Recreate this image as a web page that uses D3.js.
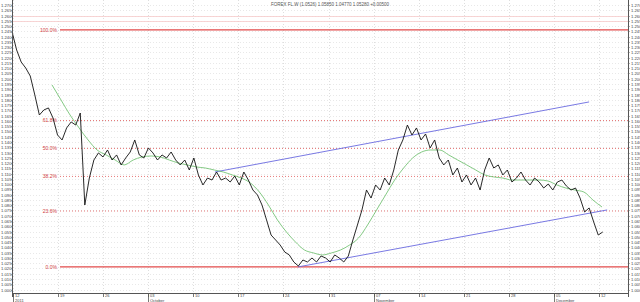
<!DOCTYPE html>
<html><head><meta charset="utf-8">
<script src="https://cdn.jsdelivr.net/npm/d3@7"></script>
<style>
html,body{margin:0;padding:0;background:#fff;}
svg{display:block;font-family:"Liberation Sans",Arial,sans-serif;}
</style></head>
<body>
<svg id="c" width="640" height="302"></svg>
<script>
// ---- data ----
const title = "FOREX FL.W (1.0526) 1.05850 1.04770 1.05280 +0.00500";
const tickDays = [0,5,10,15,20,25,30,35,40,45,50,55,60,65];
const tickLabels = ["12","19","26","03","10","17","24","31","07","14","21","28","05","12"];
const monthDays = [0,15,40,60];
const monthLabels = ["2011","October","November","December"];

const priceStartDay = -0.1, priceStepDay = 0.504;
const priceValues = [1.2444,1.2273,1.2159,1.2102,1.2026,1.1846,1.1656,1.1704,1.1723,1.1628,
1.1466,1.1419,1.1533,1.1590,1.1561,1.1675,1.0802,1.1058,1.1229,1.1296,
1.1258,1.1324,1.1229,1.1277,1.1182,1.1248,1.1305,1.1419,1.1277,1.1248,
1.1343,1.1296,1.1229,1.1277,1.1248,1.1305,1.1229,1.1182,1.1229,1.1134,
1.1248,1.1087,1.0992,1.1058,1.1039,1.1115,1.1039,1.1058,1.1020,1.1077,
1.0992,1.1115,1.1039,1.0944,1.0897,1.0802,1.0660,1.0517,1.0470,1.0422,
1.0356,1.0328,1.0261,1.0223,1.0280,1.0261,1.0299,1.0261,1.0318,1.0299,
1.0261,1.0328,1.0299,1.0261,1.0318,1.0470,1.0612,1.0755,1.0944,1.0868,
1.0992,1.0944,1.1058,1.0992,1.1134,1.1324,1.1419,1.1561,1.1466,1.1533,
1.1419,1.1476,1.1343,1.1419,1.1248,1.1182,1.1229,1.1087,1.1153,1.1020,
1.1087,1.0992,1.1058,1.0944,1.1134,1.1248,1.1153,1.1182,1.1087,1.1134,
1.1020,1.1058,1.1115,1.1039,1.0992,1.1058,1.1020,1.0963,1.1001,1.0944,
1.1020,1.1039,1.0982,1.0944,1.0963,1.0868,1.0736,1.0774,1.0641,1.0517,1.0546];

const maStartDay = 4.33, maStepDay = 1.0;
const maValues = [1.1941,1.1798,1.1656,1.1533,1.1419,1.1324,1.1277,1.1229,1.1182,1.1229,
1.1258,1.1267,1.1258,1.1229,1.1201,1.1182,1.1163,1.1153,1.1134,1.1115,
1.1087,1.1058,1.1011,1.0925,1.0802,1.0660,1.0546,1.0451,1.0375,1.0347,
1.0328,1.0347,1.0375,1.0422,1.0489,1.0612,1.0755,1.0897,1.1039,1.1153,
1.1248,1.1305,1.1324,1.1324,1.1277,1.1229,1.1182,1.1134,1.1087,1.1068,
1.1058,1.1039,1.1039,1.1039,1.1039,1.1030,1.0992,1.0963,1.0944,1.0925,1.0849,1.0783];

const channelUpper = [[22.4,1.1115],[63.9,1.1780]];
const channelLower = [[31.6,1.0214],[65.9,1.0755]];

const fibHigh = 1.2463, fibLow = 1.0214;
const fibLevels = [0, 0.236, 0.382, 0.5, 0.618, 1.0];
const fibLabels = ["0.0%","23.6%","38.2%","50.0%","61.8%","100.0%"];
const faintLevels = [1.2596, 1.2548];

const yMin = 1.000, yMax = 1.270, yStep = 0.005;

// ---- chart ----
const svg = d3.select("#c");
const L = 12, R = 628, T = 0, B = 293;
const x = d3.scaleLinear().domain([0,65]).range([13,599]);
const y = d3.scaleLinear().domain([1.000,1.270]).range([289.5,5]);

const yTicks = d3.range(Math.round((yMax-yMin)/yStep)+1).map(i => +(yMin + i*yStep).toFixed(3));

// horizontal grid
svg.append("g").selectAll("line").data(yTicks).join("line")
  .attr("x1",L).attr("x2",R).attr("y1",d=>Math.round(y(d))+0.5).attr("y2",d=>Math.round(y(d))+0.5)
  .attr("stroke","#d8d8d8").attr("stroke-width",0.6).attr("stroke-dasharray","1,2");
// vertical grid
svg.append("g").selectAll("line").data(tickDays).join("line")
  .attr("x1",d=>Math.round(x(d))+0.5).attr("x2",d=>Math.round(x(d))+0.5).attr("y1",T).attr("y2",B)
  .attr("stroke","#d0d0d0").attr("stroke-width",0.7).attr("stroke-dasharray","1,2");

// faint levels
svg.append("g").selectAll("line").data(faintLevels).join("line")
  .attr("x1",L).attr("x2",R).attr("y1",d=>Math.round(y(d))+0.5).attr("y2",d=>Math.round(y(d))+0.5)
  .attr("stroke","#f6caca").attr("stroke-width",0.8);

// fib lines
const fibG = svg.append("g");
fibLevels.forEach((lv,i)=>{
  const v = fibLow + (fibHigh-fibLow)*lv;
  const yy = y(v);
  const solid = (lv===0 || lv===1);
  fibG.append("line").attr("x1",60).attr("x2",R).attr("y1",yy).attr("y2",yy)
    .attr("stroke", solid ? "#e24a4a" : "#e46a6a").attr("stroke-width", solid ? 1.2 : 0.9)
    .attr("stroke-dasharray", solid ? null : "1,2");
  fibG.append("text").attr("x",57).attr("y",yy+1.8).attr("text-anchor","end")
    .attr("font-size","5px").attr("fill","#d04040").text(fibLabels[i]);
});

// channel
const lineXY = d3.line().x(d=>x(d[0])).y(d=>y(d[1]));
[channelUpper, channelLower].forEach(c=>{
  svg.append("path").attr("d",lineXY(c)).attr("fill","none").attr("stroke","#6a6ae0").attr("stroke-width",0.9);
});

// moving average
const maPts = maValues.map((v,i)=>[maStartDay + i*maStepDay, v]);
svg.append("path").attr("d",d3.line().curve(d3.curveMonotoneX).x(d=>x(d[0])).y(d=>y(d[1]))(maPts))
  .attr("fill","none").attr("stroke","#5cb85c").attr("stroke-width",0.75);

// price
const pPts = priceValues.map((v,i)=>[priceStartDay + i*priceStepDay, v]);
svg.append("path").attr("d",lineXY(pPts)).attr("fill","none").attr("stroke","#111").attr("stroke-width",0.9).attr("stroke-linejoin","round");

// axes frames
svg.append("line").attr("x1",L+0.5).attr("x2",L+0.5).attr("y1",0).attr("y2",297).attr("stroke","#555").attr("stroke-width",1);
svg.append("line").attr("x1",R+0.5).attr("x2",R+0.5).attr("y1",0).attr("y2",297).attr("stroke","#555").attr("stroke-width",1);
svg.append("line").attr("x1",L).attr("x2",R).attr("y1",B+0.5).attr("y2",B+0.5).attr("stroke","#555").attr("stroke-width",1);

// y labels both sides
const yLab = svg.append("g").attr("font-size","4.2px").attr("fill","#444");
yTicks.forEach(v=>{
  const yy = Math.round(y(v))+0.5;
  yLab.append("text").attr("x",1).attr("y",yy+1.5).text(v.toFixed(3));
  yLab.append("text").attr("x",631).attr("y",yy+1.5).text(v.toFixed(3));
  svg.append("line").attr("x1",L-1).attr("x2",L+1).attr("y1",yy).attr("y2",yy).attr("stroke","#666").attr("stroke-width",0.5);
  svg.append("line").attr("x1",R).attr("x2",R+2).attr("y1",yy).attr("y2",yy).attr("stroke","#666").attr("stroke-width",0.5);
});

// x ticks
const xg = svg.append("g").attr("font-size","4px").attr("fill","#444");
tickDays.forEach((d,i)=>{
  const xx = Math.round(x(d))+0.5;
  svg.append("line").attr("x1",xx).attr("x2",xx).attr("y1",B).attr("y2",B+4).attr("stroke","#555").attr("stroke-width",0.8);
  xg.append("text").attr("x",xx+1.5).attr("y",B+4.2).text(tickLabels[i]);
});
monthDays.forEach((d,i)=>{
  const xx = Math.round(x(d))+0.5;
  svg.append("line").attr("x1",xx).attr("x2",xx).attr("y1",B).attr("y2",302).attr("stroke","#555").attr("stroke-width",0.8);
  xg.append("text").attr("x",xx+1.5).attr("y",302).text(monthLabels[i]);
});

// title
svg.append("text").attr("x",330).attr("y",5.5).attr("text-anchor","middle").attr("font-size","4.5px").attr("fill","#555").text(title);
</script>
</body></html>
